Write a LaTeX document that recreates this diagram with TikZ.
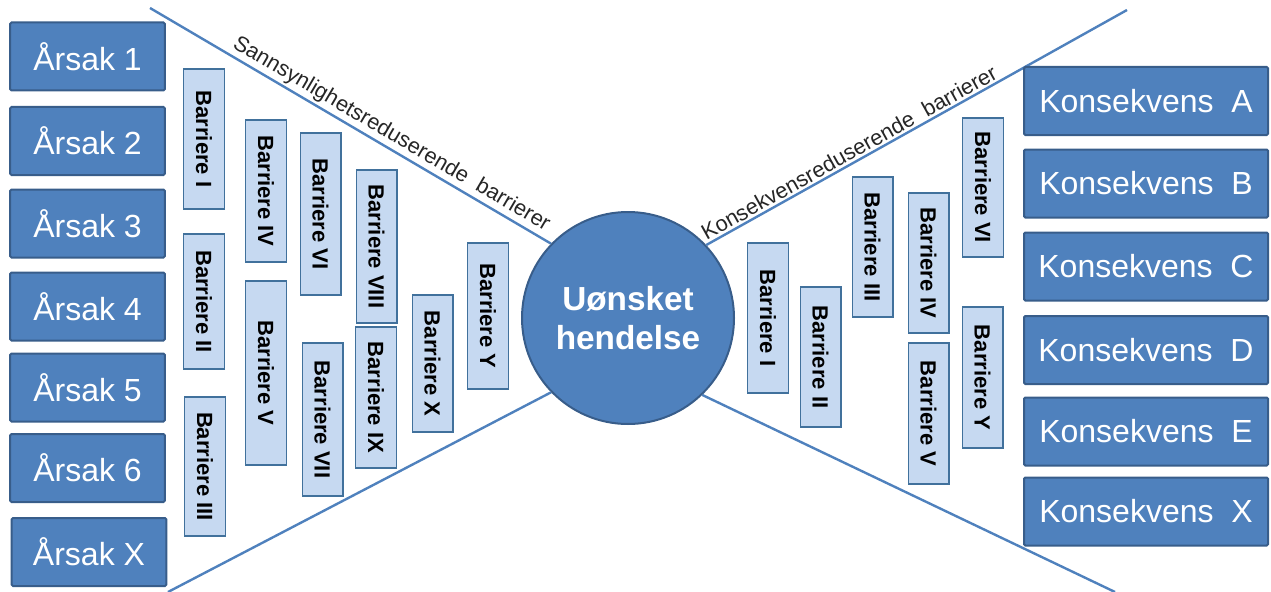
\documentclass[tikz,border=0pt]{standalone}
\usepackage{fontspec}
\setmainfont{Liberation Sans}
\definecolor{boxblue}{HTML}{4F81BD}
\definecolor{boxedge}{HTML}{385D8A}
\definecolor{barfill}{HTML}{C6D9F1}
\definecolor{baredge}{HTML}{41719C}
\tikzset{
  x = 0.75pt, % one unit = one pixel of the reference
  y = -0.75pt, % y runs downwards
  cause/.style = { % 'cause' and 'effect' box style
    rectangle,
    rounded corners = 1pt,
    draw = boxedge,
    line width = 1.5pt,
    fill = boxblue,
    text = white,
    font = \fontsize{24}{28}\selectfont,
    minimum width = #1, % argument = width
    minimum height = 51pt,
  },
  barrier/.style = { % upright barrier strip
    rectangle,
    draw = baredge,
    line width = 1pt,
    fill = barfill,
    rotate = -90, % text reads top to bottom
    inner sep = 0pt,
    minimum height = 30.5pt, % thickness of the strip
    font = \bfseries\fontsize{16.5}{18}\selectfont,
  },
  event/.style = { % central event
    circle,
    draw = boxedge,
    line width = 1.5pt,
    fill = boxblue,
    text = white,
    inner sep = 0pt,
    minimum size = 159pt,
    align = center,
    font = \bfseries\fontsize{25}{29}\selectfont,
  },
  wing/.style = { % edges of the bow tie
    draw = boxblue,
    line width = 1.8pt,
  },
  tag/.style = { % text along a wing
    sloped,
    above,
    inner sep = 1.5pt,
    text = black!85,
    font = \fontsize{16.3}{20}\selectfont,
  },
}

\begin{document}
\begin{tikzpicture}
  \useasboundingbox (0,0) rectangle (1271,592); % frame of the reference
  \node[event] (u) at (628,318) {Uønsket\\hendelse}; % middle circle
  % free ends of the wings
  \coordinate (lt) at (150,8);
  \coordinate (lb) at (168,592);
  \coordinate (rt) at (1127,10);
  \coordinate (rb) at (1115,592);
  \draw[wing] (lt) -- node[tag,pos=.585] {Sannsynlighetsreduserende\ \ barrierer} (u.136); % upper left
  \draw[wing] (lb) -- (u.224); % lower left
  \draw[wing] (u.43) -- node[tag,pos=.352] {Konsekvensreduserende\ \ barrierer} (rt); % upper right
  \draw[wing] (u.314) -- (rb); % lower right
  % causes
  \foreach \i/\x/\y in {1/87.5/56.5,2/87.5/141,3/87.5/223.5,4/87.5/306.5,5/87.5/387.5,6/87.5/468,X/89/552}{
    \node[cause=116pt] (a\i) at (\x,\y) {Årsak \i};
  }
  % consequences
  \foreach \i/\y in {A/101,B/183.5,C/266.5,D/350,E/431.5,X/511.5}{
    \node[cause=183pt] (k\i) at (1146,\y) {Konsekvens\ \ \i};
  }
  % barriers on the cause side: name/x/y/length
  \foreach \n/\x/\y/\len in {I/204/139/140,II/204/301.5/135,III/205/466.5/139,IV/266/191/142,
      V/266/373/184,VI/320.5/214/162,VII/322.5/419.5/153,VIII/376.5/246.5/153,
      IX/376/397.5/141,X/432.5/363.5/137,Y/488/316/146}{
    \node[barrier,minimum width=\len*0.75pt] (l\n) at (\x,\y) {Barriere \n};
  }
  % barriers on the consequence side
  \foreach \n/\x/\y/\len in {I/768/318/150,II/820.5/357/140,III/872.5/247/140,IV/928.5/263/140,
      V/928.5/413.5/141,VI/983/187.5/139,Y/982.5/377.5/141}{
    \node[barrier,minimum width=\len*0.75pt] (r\n) at (\x,\y) {Barriere \n};
  }
\end{tikzpicture}
\end{document}
